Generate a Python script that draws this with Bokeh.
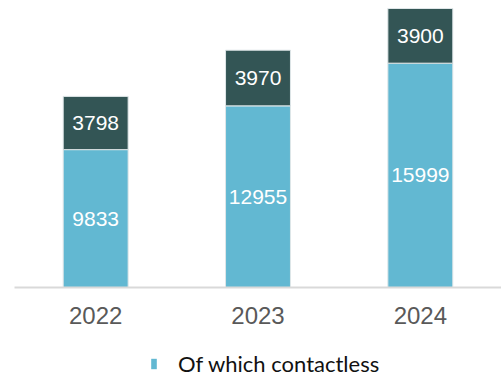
from bokeh.plotting import figure
from bokeh.layouts import column
from bokeh.models import ColumnDataSource, Range1d, Legend, LegendItem, LabelSet
from bokeh.core.properties import value
from bokeh.embed import file_html
from bokeh.resources import INLINE

years = ["2022", "2023", "2024"]
contactless = [9833, 12955, 15999]
other = [3798, 3970, 3900]
legend_label = "Of which contactless"

LIGHT = "#62B8D2"
DARK = "#335555"

src = ColumnDataSource(dict(
    years=years,
    contactless=contactless,
    other=other,
    c_mid=[c / 2 for c in contactless],
    o_mid=[c + o / 2 for c, o in zip(contactless, other)],
    c_txt=[str(c) for c in contactless],
    o_txt=[str(o) for o in other],
))

p = figure(x_range=years, y_range=Range1d(0, 20470), width=501, height=340,
           output_backend="svg", toolbar_location=None,
           min_border_left=14, min_border_right=0, min_border_top=0, min_border_bottom=53)

rs = p.vbar_stack(["contactless", "other"], x="years", width=0.4, source=src,
                  color=[LIGHT, DARK], line_color="#dfe6e8", line_width=1)

for col, y in (("c_txt", "c_mid"), ("o_txt", "o_mid")):
    p.add_layout(LabelSet(x="years", y=y, text=col, source=src,
                          text_color="white", text_font=value("Liberation Sans"),
                          text_font_size="21px", text_align="center",
                          text_baseline="middle"))

p.yaxis.visible = False
p.xgrid.visible = False
p.ygrid.visible = False
p.outline_line_color = None
p.xaxis.axis_line_color = "#d9d9d9"
p.xaxis.axis_line_width = 2
p.xaxis.major_tick_line_color = None
p.xaxis.minor_tick_line_color = None
p.xaxis.major_label_text_font = "Liberation Sans"
p.xaxis.major_label_text_font_size = "24px"
p.xaxis.major_label_text_color = "#595959"
p.xaxis.major_label_standoff = 13

# legend strip
q = figure(x_range=Range1d(0, 1), y_range=Range1d(0, 1), width=501, height=37,
           output_backend="svg", toolbar_location=None,
           min_border_left=0, min_border_right=0, min_border_top=0, min_border_bottom=0)
q.axis.visible = False
q.grid.visible = False
q.outline_line_color = None
dummy = q.vbar(x=[0.5], top=[0], bottom=[0], width=0.01, fill_color=LIGHT, line_color=None)
legend = Legend(items=[LegendItem(label=legend_label, renderers=[dummy])],
                location=(136, 0), orientation="horizontal",
                glyph_width=7, glyph_height=13, label_standoff=21,
                label_text_font="Lato", label_text_font_size="22px",
                label_text_color="#111111", border_line_color=None,
                background_fill_alpha=0, padding=0, margin=0)
q.add_layout(legend)

open("out.html", "w").write(file_html(column(p, q, spacing=0), INLINE))
